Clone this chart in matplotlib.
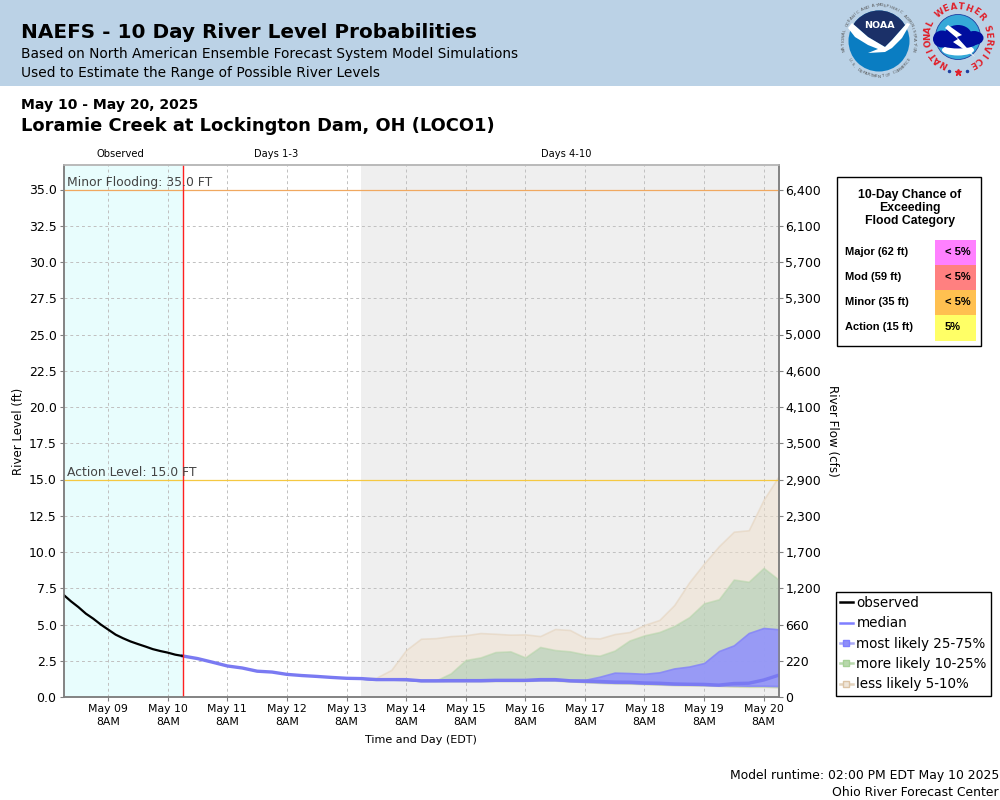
import numpy as np
import pandas as pd
import matplotlib
matplotlib.use('Agg')
import matplotlib.pyplot as plt
from matplotlib.lines import Line2D
from matplotlib.patches import Circle, Ellipse, Polygon, Rectangle

plt.rcParams['font.family'] = ['DejaVu Sans']

observed = [7.05, 6.6, 6.2, 5.75, 5.4, 5.0, 4.65, 4.3, 4.05, 3.83, 3.65, 3.48, 3.3, 3.17, 3.06, 2.92, 2.83]

# median every 6 hours from May 10 14:00
median = [2.83, 2.65, 2.4, 2.14, 2.0, 1.78, 1.72, 1.56, 1.48, 1.42, 1.35, 1.29, 1.27,
          1.2, 1.2, 1.2, 1.12, 1.12, 1.13, 1.13, 1.13, 1.15, 1.15, 1.15, 1.2, 1.2, 1.12, 1.1,
          1.07, 1.03, 1.02, 0.97, 0.95, 0.9, 0.88, 0.87, 0.82, 0.93, 0.95, 1.17, 1.5]

# bands every 6 hours from May 13 14:00
up_75 = [1.27, 1.22, 1.22, 1.22, 1.14, 1.14, 1.15, 1.15, 1.16, 1.17, 1.17, 1.17, 1.24, 1.24, 1.15, 1.18,
         1.4, 1.68, 1.65, 1.6, 1.7, 1.97, 2.1, 2.34, 3.17, 3.56, 4.41, 4.76, 4.67]
up_90 = [1.27, 1.22, 1.22, 1.22, 1.14, 1.14, 1.63, 2.55, 2.73, 3.1, 3.15, 2.73, 3.45, 3.24, 3.15, 2.94,
         2.85, 3.2, 3.9, 4.25, 4.48, 4.9, 5.5, 6.46, 6.74, 8.1, 7.95, 8.9, 8.1]
up_95 = [1.27, 1.33, 1.86, 3.24, 4.02, 4.06, 4.2, 4.26, 4.41, 4.36, 4.3, 4.32, 4.2, 4.69, 4.62, 4.08,
         4.04, 4.34, 4.48, 4.97, 5.31, 6.34, 7.9, 9.2, 10.4, 11.4, 11.5, 13.6, 15.2]
low_25 = [1.27, 1.2, 1.2, 1.18, 1.1, 1.1, 1.1, 1.1, 1.1, 1.12, 1.12, 1.12, 1.15, 1.15, 1.1, 1.05,
          1.02, 0.98, 0.97, 0.93, 0.9, 0.87, 0.85, 0.83, 0.8, 0.8, 0.78, 0.78, 0.76]
low_10 = [1.27, 1.2, 1.2, 1.17, 1.1, 1.1, 1.1, 1.1, 1.1, 1.11, 1.11, 1.11, 1.14, 1.13, 1.08, 1.03,
          0.98, 0.95, 0.93, 0.9, 0.86, 0.83, 0.82, 0.8, 0.78, 0.74, 0.72, 0.72, 0.69]
low_5 = [1.27, 1.2, 1.2, 1.17, 1.1, 1.1, 1.1, 1.1, 1.1, 1.11, 1.11, 1.11, 1.14, 1.13, 1.08, 1.03,
         0.97, 0.94, 0.92, 0.89, 0.85, 0.82, 0.8, 0.79, 0.76, 0.72, 0.7, 0.7, 0.67]

stage_ticks = [0, 2.5, 5, 7.5, 10, 12.5, 15, 17.5, 20, 22.5, 25, 27.5, 30, 32.5, 35]
flow_labels = ['0', '220', '660', '1,200', '1,700', '2,300', '2,900', '3,500', '4,100',
               '4,600', '5,000', '5,300', '5,700', '6,100', '6,400']

flood_names = ['Major (62 ft)', 'Mod (59 ft)', 'Minor (35 ft)', 'Action (15 ft)']
flood_chance = ['< 5%', '< 5%', '< 5%', '5%']
flood_colors = ['#ff80ff', '#ff8080', '#ffc050', '#ffff66']

# Times
t_obs = pd.date_range('2025-05-08 14:00', periods=len(observed), freq='3h')
t_med = pd.date_range('2025-05-10 14:00', periods=len(median), freq='6h')
t_band = pd.date_range('2025-05-13 14:00', periods=len(up_95), freq='6h')
day_ticks = pd.date_range('2025-05-09 08:00', '2025-05-20 08:00', freq='D')
day_labels = [d.strftime('%b %d') + '\n8AM' for d in day_ticks]

fig = plt.figure(figsize=(10, 8), dpi=100)

# Background layer in pixel coordinates, used for header, texts and logos
bg = fig.add_axes([0, 0, 1, 1], zorder=0)
bg.set_xlim(0, 1000)
bg.set_ylim(800, 0)
bg.axis('off')
bg.add_patch(Rectangle((0, 0), 1000, 85.5, fc='#bbd2e6', ec='none'))

bg.text(21, 33, 'NAEFS - 10 Day River Level Probabilities', fontsize=14.4, fontweight='bold', va='center')
bg.text(21, 54, 'Based on North American Ensemble Forecast System Model Simulations', fontsize=9.9, va='center')
bg.text(21, 73, 'Used to Estimate the Range of Possible River Levels', fontsize=9.9, va='center')
bg.text(21, 105, 'May 10 - May 20, 2025', fontsize=10.1, fontweight='bold', va='center')
bg.text(21, 126, 'Loramie Creek at Lockington Dam, OH (LOCO1)', fontsize=12.9, fontweight='bold', va='center')
bg.text(120, 154, 'Observed', fontsize=7.2, ha='center', va='center')
bg.text(276, 154, 'Days 1-3', fontsize=7.1, ha='center', va='center')
bg.text(566, 154, 'Days 4-10', fontsize=7.1, ha='center', va='center')
bg.text(421, 740, 'Time and Day (EDT)', fontsize=8, ha='center', va='center')
bg.text(999, 776, 'Model runtime: 02:00 PM EDT May 10 2025', fontsize=8.9, ha='right', va='center')
bg.text(999, 792, 'Ohio River Forecast Center', fontsize=8.9, ha='right', va='center')
bg.text(19, 431, 'River Level (ft)', fontsize=8.5, rotation=90, ha='center', va='center')
bg.text(832, 431, 'River Flow (cfs)', fontsize=8.6, rotation=270, ha='center', va='center')


def ring_text(txt, cx, cy, r, start, end, flip=False, **kw):
    # one rotated letter at a time, angles in degrees, clockwise from the top
    angles = np.linspace(start, end, len(txt))
    for ch, a in zip(txt, angles):
        rad = np.radians(a)
        x = cx + r * np.sin(rad)
        y = cy - r * np.cos(rad)
        rot = 180 - a if flip else -a
        bg.text(x, y, ch, rotation=rot, ha='center', va='center', rotation_mode='anchor', **kw)


# NOAA logo
cx, cy = 879, 41
disc = Circle((cx, cy), 30.5, fc='#0a7dc2', ec='none')
bg.add_patch(disc)
dark = Polygon([(848, 5), (910, 5), (910, 22), (907, 23), (892, 40), (885, 47), (868, 37), (852, 23), (848, 22)],
               fc='#1b3068', ec='none')
bg.add_patch(dark)
dark.set_clip_path(disc)
bird = Polygon([(848, 28), (852, 23), (868, 37), (885, 47), (892, 40), (907, 23), (910, 24), (902, 38), (892, 48),
                (885, 52), (868, 53), (878, 49), (868, 45), (855, 37)], fc='white', ec='none')
bg.add_patch(bird)
bg.text(879, 25, 'NOAA', fontsize=6.8, fontweight='bold', color='white', ha='center', va='center')
ring_text('NATIONAL OCEANIC AND ATMOSPHERIC ADMINISTRATION', cx, cy, 35.5, -105, 105, fontsize=3, color='#555555')
ring_text('U.S. DEPARTMENT OF COMMERCE', cx, cy, 35.5, 238, 122, flip=True, fontsize=3, color='#555555')

# NWS logo
cx, cy = 958, 37
bg.add_patch(Circle((cx, cy), 22.5, fc='#35a9d8', ec='#1f3fa0', lw=0.6))
bg.add_patch(Ellipse((cx, cy + 13), 32, 11, fc='white', ec='none'))
for ex, ey, ew, eh in [(942, 39, 18, 17), (958, 36, 28, 22), (974, 38, 19, 14), (958, 43, 38, 11)]:
    bg.add_patch(Ellipse((ex, ey), ew, eh, fc='#000e9e', ec='none'))
bg.add_patch(Polygon([(948, 25), (962, 35), (957, 37), (975, 57), (953, 42), (958, 39), (945, 28)], fc='white', ec='none'))
ring_text('NATIONAL', cx, cy, 30.5, -152, -64, fontsize=6.3, fontweight='bold', color='#e0202a')
ring_text('WEATHER', cx, cy, 30.5, -37, 50, fontsize=6.3, fontweight='bold', color='#e0202a')
ring_text('SERVICE', cx, cy, 30.5, 73, 151, fontsize=6.3, fontweight='bold', color='#e0202a')
bg.plot([949, 967], [71, 71], ls='none', marker='.', ms=3, color='#1f3fa0')
bg.plot([958], [72], ls='none', marker='*', ms=5, color='#e0202a')

# Flood category table
bg.add_patch(Rectangle((836.5, 176.5), 144, 169, fc='white', ec='black', lw=1))
bg.text(910, 208, '10-Day Chance of\nExceeding\nFlood Category', family='Liberation Sans', fontsize=8.8,
        fontweight='bold', ha='center', va='center', linespacing=1.1)
cell_top = [240, 265, 290, 315]
cell_h = [25, 25, 25, 26]
for name, chance, col, top, h in zip(flood_names, flood_chance, flood_colors, cell_top, cell_h):
    bg.add_patch(Rectangle((935, top), 41, h, fc=col, ec='none'))
    bg.text(845, top + 12, name, family='Liberation Sans', fontsize=8, fontweight='bold', va='center')
    bg.text(945, top + 12, chance, family='Liberation Sans', fontsize=8, fontweight='bold', va='center')

# Main chart
ax = fig.add_axes([63.5 / 1000, 1 - 697 / 800, 715 / 1000, 532 / 800], zorder=2)
ax.set_facecolor('white')
start, end = t_obs[0], pd.Timestamp('2025-05-20 14:00')
ax.set_xlim(start, end)
ax.set_ylim(0, 532 / 14.5)

ax.axvspan(start, t_med[0], fc='#e8fdfd', ec='none', zorder=0)
ax.axvspan(t_band[0], end, fc='#efefef', ec='none', zorder=0)
ax.grid(True, ls=(0, (3, 3)), color='#c0c0c0', lw=0.7, zorder=1)
ax.set_axisbelow(True)

ax.fill_between(t_band, low_5, up_95, fc='#efe0cc', alpha=0.5, ec='#e3cfb6', lw=1.2, zorder=2)
ax.fill_between(t_band, low_10, up_90, fc='#a1c9ab', alpha=0.5, ec='#b0d4a4', lw=1.2, zorder=3)
ax.fill_between(t_band, low_25, up_75, fc='#9090ff', alpha=0.85, ec='#8585f8', lw=1.2, zorder=4)
ax.plot(t_med, median, color='#7a7af2', lw=2.4, zorder=5)
ax.plot(t_obs, observed, color='black', lw=1.6, zorder=6)

ax.axhline(35, color='#f0a860', lw=0.9, zorder=3)
ax.axhline(15, color='#f5c842', lw=0.9, zorder=3)
ax.axvline(t_med[0], color='#ff2020', lw=1, zorder=7)
ax.text(0.0055, 35.23, 'Minor Flooding: 35.0 FT', transform=ax.get_yaxis_transform(), fontsize=8.9, color='#444444', zorder=8)
ax.text(0.0055, 15.23, 'Action Level: 15.0 FT', transform=ax.get_yaxis_transform(), fontsize=8.9, color='#444444', zorder=8)

ax.set_xticks(day_ticks)
ax.set_xticklabels(day_labels, fontsize=7.8, linespacing=1.35)
ax.set_yticks(stage_ticks)
ax.set_yticklabels(['%.1f' % v for v in stage_ticks], fontsize=9)
ax.tick_params(axis='both', length=3, width=0.8, color='#808080', pad=2)
ax.tick_params(axis='x', pad=2)

ax2 = ax.twinx()
ax2.set_ylim(ax.get_ylim())
ax2.set_yticks(stage_ticks)
ax2.set_yticklabels(flow_labels, fontsize=9)
ax2.tick_params(axis='y', length=3, width=0.8, color='#808080', pad=2)

for a in (ax, ax2):
    for side in a.spines:
        a.spines[side].set_color('#808080')
        a.spines[side].set_linewidth(1.1)
    a.spines['top'].set_color('#b8b8b8')

# Legend
handles = [
    Line2D([], [], color='black', lw=1.8),
    Line2D([], [], color='#7f7fff', lw=1.8),
    Line2D([], [], color='#a9a9f5', lw=1.8, marker='s', ms=5, mfc='#8f8ff8', mec='#7f7fff'),
    Line2D([], [], color='#b8d8ac', lw=1.8, marker='s', ms=5, mfc='#b8d8ac', mec='#a6d096'),
    Line2D([], [], color='#e3d3bd', lw=1.8, marker='s', ms=5, mfc='#efe6da', mec='#dcc4a6'),
]
names = ['observed', 'median', 'most likely 25-75%', 'more likely 10-25%', 'less likely 5-10%']
leg = fig.legend(handles, names, loc='lower left', bbox_to_anchor=(835.5 / 1000, 1 - 695.5 / 800), fontsize=9.75,
                 frameon=True, fancybox=False, framealpha=1, edgecolor='black', borderaxespad=0, borderpad=0.3,
                 handlelength=1.0, handletextpad=0.25, labelspacing=0.47)
leg.get_frame().set_linewidth(1)

fig.savefig('out.png', dpi=100)
